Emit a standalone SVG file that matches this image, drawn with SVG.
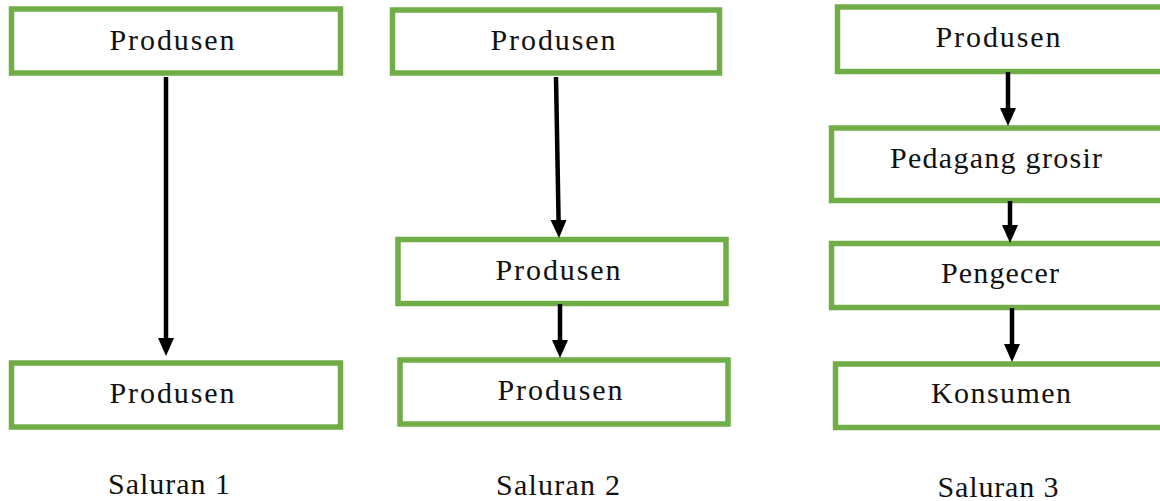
<svg xmlns="http://www.w3.org/2000/svg" width="1160" height="501" viewBox="0 0 1160 501">
<style>
.box{fill:#fff;stroke:#70AD47;stroke-width:5.5}
.t{font-family:"Liberation Serif","Times New Roman",serif;font-size:30px;fill:#111;text-anchor:middle}
.ln{stroke:#000;stroke-width:4.5;fill:none}
.hd{fill:#000}
</style>
<rect width="1160" height="501" fill="#fff"/>
<g id="s1-top"><rect class="box" x="11.5" y="9" width="329" height="64"/><text class="t" x="172" y="50" textLength="125" lengthAdjust="spacing">Produsen</text></g>
<g id="s1-bottom"><rect class="box" x="11.5" y="363" width="329" height="64"/><text class="t" x="172" y="403" textLength="125" lengthAdjust="spacing">Produsen</text></g>
<g id="s2-top"><rect class="box" x="392.5" y="10" width="327" height="63"/><text class="t" x="553" y="50" textLength="125" lengthAdjust="spacing">Produsen</text></g>
<g id="s2-mid"><rect class="box" x="398" y="239.5" width="328" height="64"/><text class="t" x="558" y="280" textLength="125" lengthAdjust="spacing">Produsen</text></g>
<g id="s2-bottom"><rect class="box" x="400" y="360" width="328" height="64"/><text class="t" x="560" y="400" textLength="125" lengthAdjust="spacing">Produsen</text></g>
<g id="s3-1"><rect class="box" x="837.5" y="7" width="340" height="64.5"/><text class="t" x="998" y="47" textLength="125" lengthAdjust="spacing">Produsen</text></g>
<g id="s3-2"><rect class="box" x="831.5" y="128" width="346" height="72.5"/><text class="t" x="996" y="168" textLength="212" lengthAdjust="spacing">Pedagang grosir</text></g>
<g id="s3-3"><rect class="box" x="831.5" y="243.5" width="346" height="64"/><text class="t" x="1000" y="283" textLength="118" lengthAdjust="spacing">Pengecer</text></g>
<g id="s3-4"><rect class="box" x="835.5" y="364" width="342" height="63.5"/><text class="t" x="1001" y="403" textLength="140" lengthAdjust="spacing">Konsumen</text></g>
<g id="labels">
<text class="t" x="169" y="494" textLength="122" lengthAdjust="spacing">Saluran 1</text>
<text class="t" x="558" y="495" textLength="124" lengthAdjust="spacing">Saluran 2</text>
<text class="t" x="998" y="497" textLength="121" lengthAdjust="spacing">Saluran 3</text>
</g>
<g id="connectors">
<line class="ln" x1="166" y1="77" x2="166" y2="340"/><polygon class="hd" points="158,338 174,338 166,356"/>
<line class="ln" x1="556" y1="77" x2="558.6" y2="222"/><polygon class="hd" points="550.5,220 566.5,220 559,238"/>
<line class="ln" x1="560" y1="304" x2="560" y2="342"/><polygon class="hd" points="552,340 568,340 560,358"/>
<line class="ln" x1="1008" y1="72" x2="1008" y2="110"/><polygon class="hd" points="1000,108 1016,108 1008,126"/>
<line class="ln" x1="1010" y1="201" x2="1010" y2="227"/><polygon class="hd" points="1002,225 1018,225 1010,243"/>
<line class="ln" x1="1012" y1="308" x2="1012" y2="346"/><polygon class="hd" points="1004,344 1020,344 1012,362"/>
</g>
</svg>
